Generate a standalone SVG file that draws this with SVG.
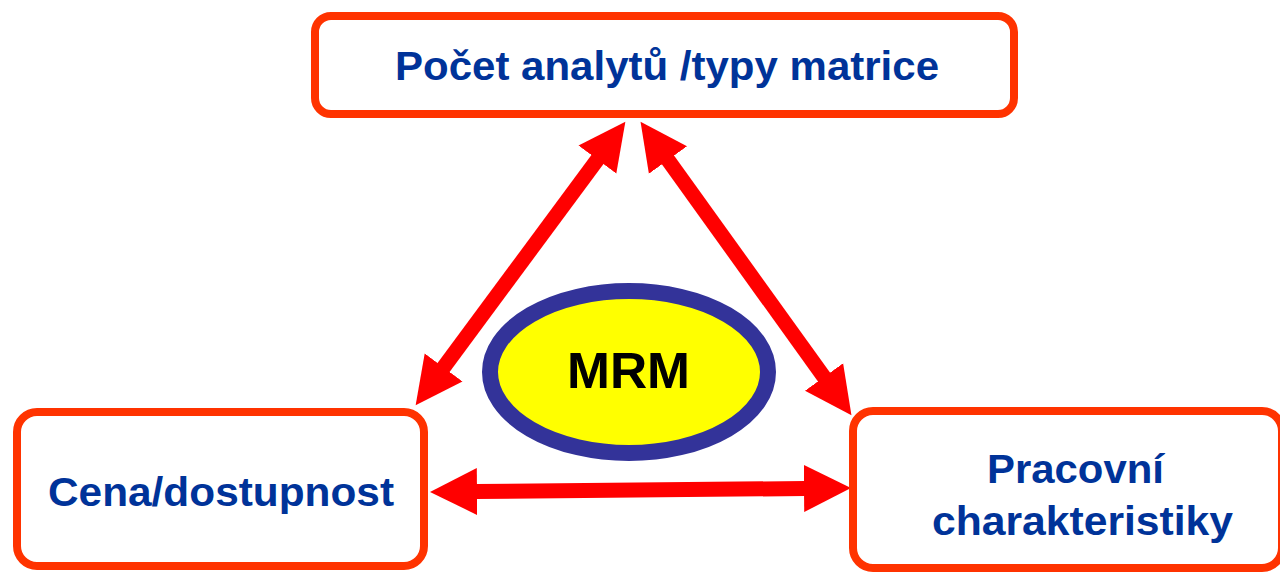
<svg xmlns="http://www.w3.org/2000/svg" width="1280" height="573" viewBox="0 0 1280 573">
<style>
.box{fill:#fff;stroke:#FF3300;stroke-width:8}
.lbl{font-family:"Liberation Sans",Arial,sans-serif;font-weight:bold;font-size:41px;fill:#003399}
.conn{stroke:#FF0000;stroke-width:15;fill:none;marker-start:url(#head);marker-end:url(#head)}
</style>
<defs>
<marker id="head" markerUnits="userSpaceOnUse" viewBox="0 -24 48 48" markerWidth="48" markerHeight="48" refX="1" refY="0" orient="auto-start-reverse">
<path d="M0,-23.5 L47,0 L0,23.5 Z" fill="#FF0000"/>
</marker>
</defs>
<rect width="1280" height="573" fill="#fff"/>
<g id="connectors">
<line class="conn" x1="443" y1="368.2" x2="598" y2="158.8"/>
<line class="conn" x1="824.6" y1="377.8" x2="667.4" y2="159.2"/>
<line class="conn" x1="476" y1="491.5" x2="805" y2="488.5"/>
</g>
<g id="top">
<rect class="box" x="315" y="16" width="699" height="98" rx="16"/>
<text class="lbl" x="395" y="80" textLength="544" lengthAdjust="spacingAndGlyphs">Počet analytů /typy matrice</text>
</g>
<g id="left">
<rect class="box" x="17" y="412" width="407" height="154" rx="20"/>
<text class="lbl" x="48" y="506" textLength="346" lengthAdjust="spacingAndGlyphs">Cena/dostupnost</text>
</g>
<g id="right">
<rect class="box" x="853" y="411" width="429" height="157" rx="20"/>
<text class="lbl" x="987" y="483" textLength="177" lengthAdjust="spacingAndGlyphs">Pracovní</text>
<text class="lbl" x="932" y="535" textLength="301" lengthAdjust="spacingAndGlyphs">charakteristiky</text>
</g>
<g id="mrm">
<ellipse cx="629" cy="372" rx="139" ry="81" fill="#FFFF00" stroke="#333399" stroke-width="16"/>
<text x="567" y="388" textLength="123" lengthAdjust="spacingAndGlyphs" font-family="Liberation Sans, Arial, sans-serif" font-weight="bold" font-size="50" fill="#000">MRM</text>
</g>
</svg>
